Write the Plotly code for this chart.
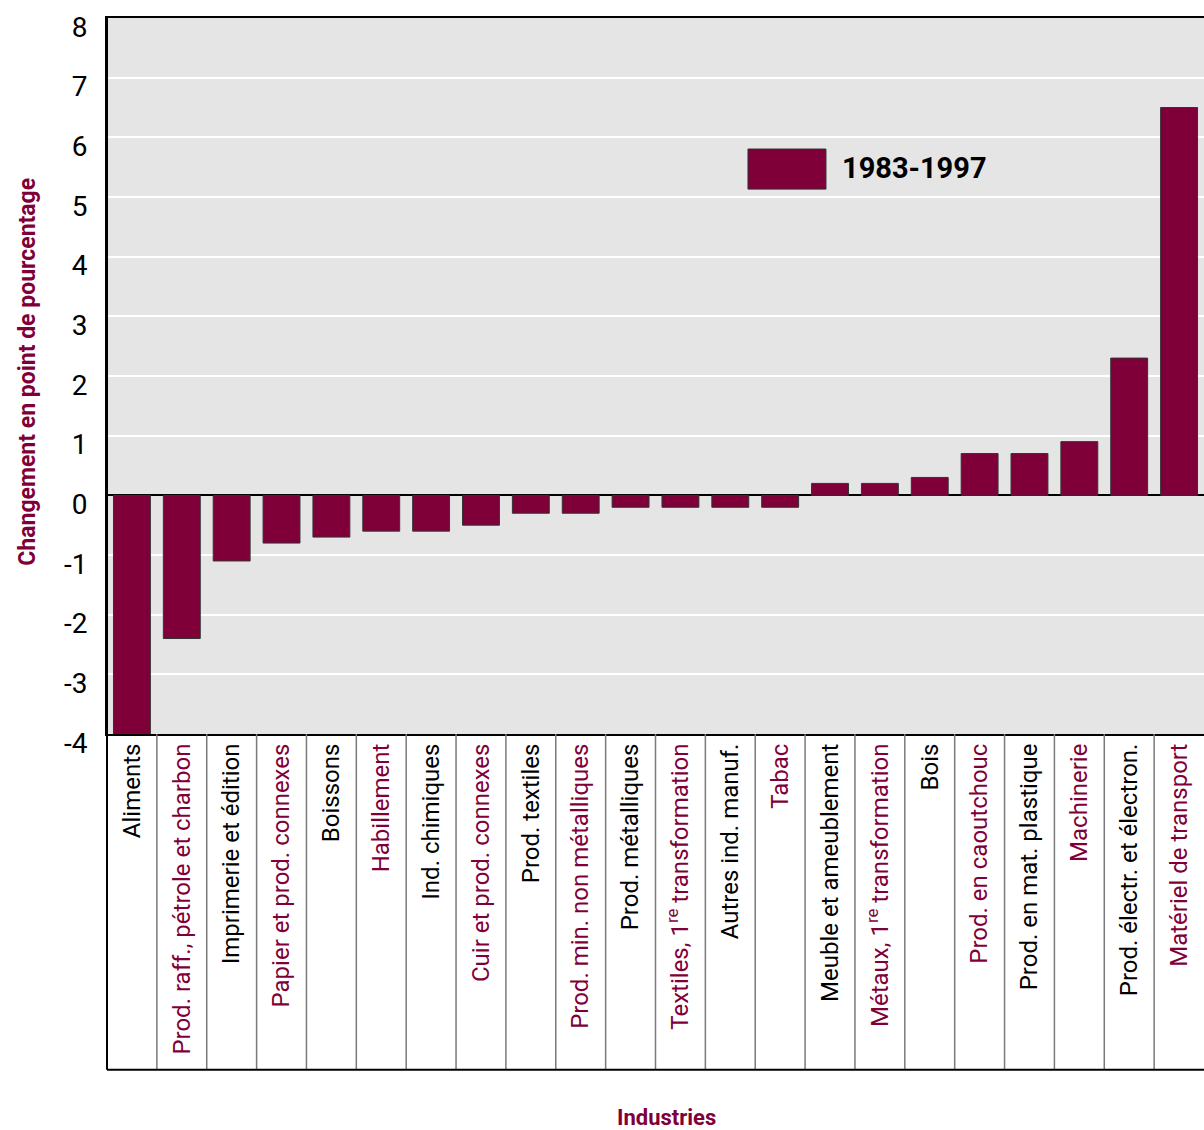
import plotly.graph_objects as go

categories = [
    "Aliments", "Prod. raff., pétrole et charbon", "Imprimerie et édition",
    "Papier et prod. connexes", "Boissons", "Habillement", "Ind. chimiques",
    "Cuir et prod. connexes", "Prod. textiles", "Prod. min. non métalliques",
    "Prod. métalliques", "Textiles, 1<sup>re</sup> transformation", "Autres ind. manuf.",
    "Tabac", "Meuble et ameublement", "Métaux, 1<sup>re</sup> transformation", "Bois",
    "Prod. en caoutchouc", "Prod. en mat. plastique", "Machinerie",
    "Prod. électr. et électron.", "Matériel de transport",
]
values = [-4.0, -2.4, -1.1, -0.8, -0.7, -0.6, -0.6, -0.5, -0.3, -0.3,
          -0.2, -0.2, -0.2, -0.2, 0.2, 0.2, 0.3, 0.7, 0.7, 0.9, 2.3, 6.5]
series_name = "1983-1997"
y_ticks = [-4, -3, -2, -1, 0, 1, 2, 3, 4, 5, 6, 7, 8]
y_ticklabels = ["-4", "-3", "-2", "-1", "0", "1", "2", "3", "4", "5", "6", "7", "8"]

MAROON = "#7f0039"
FONT = "Roboto, Liberation Sans, sans-serif"

label_colors = ["#000000" if i % 2 == 0 else MAROON for i in range(len(categories))]
ticktext = [f"<span style='color:{c}'>{t}</span>" for t, c in zip(categories, label_colors)]
xs = list(range(len(categories)))

fig = go.Figure()
fig.add_trace(go.Bar(
    x=xs, y=values, name=series_name,
    marker=dict(color=MAROON, line=dict(color="#333333", width=1)),
    showlegend=False,
))

TABLE_BOTTOM = -0.469
shapes = []
for i in range(1, len(categories)):
    shapes.append(dict(type="line", xref="x", yref="paper", x0=i - 0.5, x1=i - 0.5,
                       y0=0, y1=TABLE_BOTTOM, line=dict(color="#7a7a7a", width=1.5)))
shapes.append(dict(type="line", xref="paper", yref="paper", x0=0, x1=1,
                   y0=TABLE_BOTTOM, y1=TABLE_BOTTOM, line=dict(color="black", width=2)))
shapes.append(dict(type="line", xref="paper", yref="paper", x0=0, x1=0,
                   y0=1, y1=TABLE_BOTTOM, line=dict(color="black", width=2)))
shapes.append(dict(type="rect", xref="paper", yref="paper", x0=0.5843, x1=0.6554,
                   y0=0.761, y1=0.817, fillcolor=MAROON, line=dict(color="#333333", width=1)))

annotations = [
    dict(text="<b>1983-1997</b>", xref="paper", yref="paper", x=0.668, y=0.790,
         xanchor="left", yanchor="middle", showarrow=False,
         font=dict(family=FONT, size=29, color="black")),
    dict(text="<b>Changement en point de pourcentage</b>", xref="paper", yref="paper",
         x=-0.072, y=0.506, xanchor="center", yanchor="middle", textangle=-90,
         showarrow=False, font=dict(family=FONT, size=23, color=MAROON)),
    dict(text="<b>Industries</b>", xref="paper", yref="paper", x=0.51, y=-0.535,
         xanchor="center", yanchor="middle", showarrow=False,
         font=dict(family=FONT, size=22, color=MAROON)),
]

fig.update_layout(
    width=1204, height=1130,
    margin=dict(l=107, r=0, t=18, b=396),
    plot_bgcolor="#e5e5e5", paper_bgcolor="white",
    bargap=0.26,
    font=dict(family=FONT, color="black"),
    shapes=shapes, annotations=annotations,
    xaxis=dict(tickmode="array", tickvals=xs, ticktext=ticktext, tickangle=-90,
               range=[-0.5, len(categories) - 0.5], showgrid=False,
               showline=True, linecolor="black", linewidth=2, mirror=True,
               ticks="", ticklabelstandoff=-2, tickfont=dict(size=24)),
    yaxis=dict(range=[-4, 8], tickmode="array", tickvals=y_ticks, ticktext=y_ticklabels,
               showgrid=True, gridcolor="white",
               gridwidth=2, zeroline=True, zerolinecolor="black", zerolinewidth=2,
               showline=True, linecolor="black", linewidth=2, ticks="",
               ticklabelstandoff=12, ticklabelshift=9, tickfont=dict(size=28)),
)

fig.write_html("out.html", config={"displayModeBar": False},
               post_script="document.body.style.margin='0';document.body.style.overflow='hidden';")
